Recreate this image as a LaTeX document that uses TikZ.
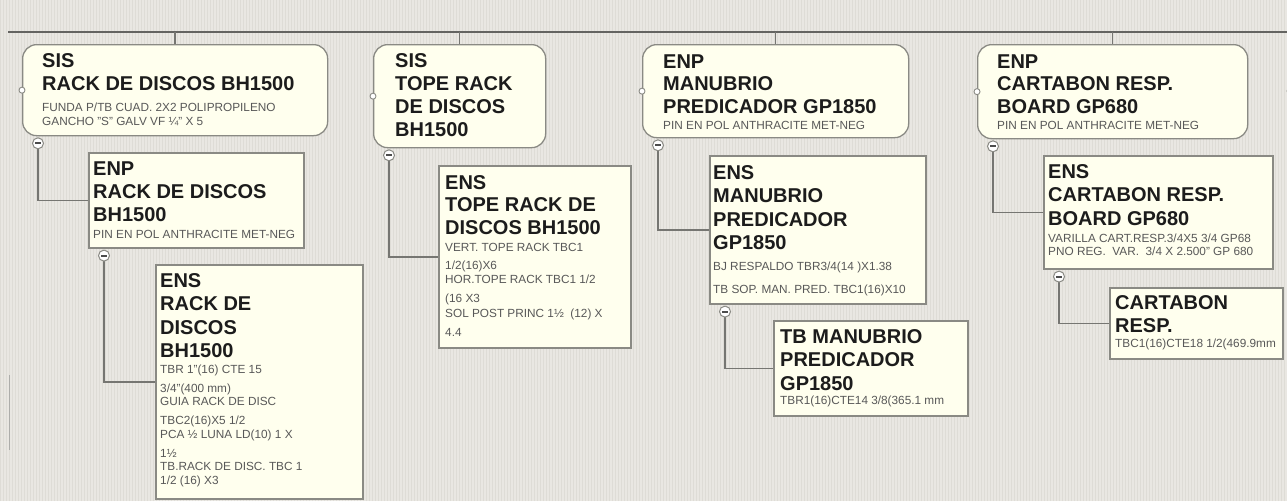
\documentclass[tikz,border=0pt]{standalone}
\usepackage{fontspec}
\setmainfont{Liberation Sans}
\definecolor{bg}{RGB}{233,231,226}
\definecolor{bggrid}{RGB}{222,220,214}
\definecolor{boxfill}{RGB}{255,255,238}
\definecolor{boxline}{RGB}{138,138,132}
\definecolor{connline}{RGB}{118,118,114}
\definecolor{titletext}{RGB}{28,28,28}
\definecolor{smalltext}{RGB}{88,88,88}
\tikzset{
  rootbox/.style={draw=boxline, fill=boxfill, line width=1.3pt, rounded corners=14pt, anchor=north west, inner sep=0pt},
  childbox/.style={draw=boxline, fill=boxfill, line width=1.6pt, anchor=north west, inner sep=0pt},
  conn/.style={draw=connline, line width=1.5pt},
  topline/.style={draw=connline!85!black, line width=2.2pt},
  minusbtn/.style={circle, draw=boxline, fill=white, line width=1pt, minimum size=11pt, inner sep=0pt,
    path picture={\draw[line width=1.8pt, black!70] ([xshift=-2.6pt]path picture bounding box.center) -- ([xshift=2.6pt]path picture bounding box.center);}},
  portdot/.style={circle, draw=boxline, fill=white, line width=0.9pt, minimum size=6pt, inner sep=0pt},
  titletxt/.style={font=\fontsize{20}{23}\selectfont\bfseries, text=titletext, anchor=base west, inner sep=0pt},
  smalltxt/.style={font=\fontsize{11.8}{13}\selectfont, text=smalltext, anchor=base west, inner sep=0pt},
}
\newcommand\ttl[4]{\node[titletxt] (#1) at (#2,#3) {#4};}
\newcommand\stl[4]{\node[smalltxt] (#1) at (#2,#3) {#4};}
\begin{document}
\begin{tikzpicture}[x=1pt,y=-1pt]
\useasboundingbox (0,0) rectangle (1287,501);
\fill[bg] (0,0) rectangle (1287,501);
\draw[bggrid, line width=0.35pt, step=3] (0,0) grid (1287,501);
\draw[connline!60, line width=1pt] (9,375) -- (9,450);

% top line
\coordinate (tl0) at (8,32);
\coordinate (tlE) at (1287,32);
\draw[topline] (tl0) -- (tlE);

% root boxes
\node[rootbox, minimum width=305pt, minimum height=91pt] (r1) at (22,44) {};
\node[rootbox, minimum width=172pt, minimum height=103pt] (r2) at (373,44) {};
\node[rootbox, minimum width=266pt, minimum height=93pt] (r3) at (642,44) {};
\node[rootbox, minimum width=270pt, minimum height=94pt] (r4) at (977,44) {};
\foreach \r in {r1,r2,r3,r4}{
  \draw[conn] (\r.north |- tl0) -- (\r.north);
  \node[portdot] (\r p) at (\r.west) {};
}
\node[portdot] (r5p) at (1290,91) {};

% child boxes
\node[childbox, minimum width=215pt, minimum height=95pt] (enp1) at (88,152) {};
\node[childbox, minimum width=207pt, minimum height=234pt] (ens1) at (155,264) {};
\node[childbox, minimum width=192pt, minimum height=182pt] (ens2) at (438,165) {};
\node[childbox, minimum width=216pt, minimum height=148pt] (ens3) at (709,155) {};
\node[childbox, minimum width=194pt, minimum height=95pt] (tb3) at (773,320) {};
\node[childbox, minimum width=229pt, minimum height=113pt] (ens4) at (1043,155) {};
\node[childbox, minimum width=173pt, minimum height=71pt] (cart4) at (1109,287) {};

% connectors with collapse buttons
\foreach \p/\c/\n in {r1/enp1/m1, enp1/ens1/m1b, r2/ens2/m2, r3/ens3/m3, ens3/tb3/m3b, r4/ens4/m4, ens4/cart4/m4b}{
  \coordinate (\n c) at ([shift={(16,7)}]\p.south west);
  \draw[conn] (\n c) |- (\c.west);
  \node[minusbtn] (\n) at (\n c) {};
}

% texts: root 1
\ttl{r1a}{42}{67}{SIS}
\ttl{r1b}{42}{90}{RACK DE DISCOS BH1500}
\stl{r1c}{42}{111}{FUNDA P/TB CUAD. 2X2 POLIPROPILENO}
\stl{r1d}{42}{125}{GANCHO "S" GALV VF ¼" X 5}
% root 2
\ttl{r2a}{395}{67}{SIS}
\ttl{r2b}{395}{90}{TOPE RACK}
\ttl{r2c}{395}{113}{DE DISCOS}
\ttl{r2d}{395}{136}{BH1500}
% root 3
\ttl{r3a}{663}{68}{ENP}
\ttl{r3b}{663}{90.5}{MANUBRIO}
\ttl{r3c}{663}{113}{PREDICADOR GP1850}
\stl{r3d}{663}{129}{PIN EN POL ANTHRACITE MET-NEG}
% root 4
\ttl{r4a}{997}{68}{ENP}
\ttl{r4b}{997}{90.5}{CARTABON RESP.}
\ttl{r4c}{997}{113}{BOARD GP680}
\stl{r4d}{997}{129}{PIN EN POL ANTHRACITE MET-NEG}
% ENP 1
\ttl{e1a}{93}{175}{ENP}
\ttl{e1b}{93}{198}{RACK DE DISCOS}
\ttl{e1c}{93}{221}{BH1500}
\stl{e1d}{93}{238}{PIN EN POL ANTHRACITE MET-NEG}
% ENS 1
\ttl{s1a}{160}{287}{ENS}
\ttl{s1b}{160}{310.5}{RACK DE}
\ttl{s1c}{160}{334}{DISCOS}
\ttl{s1d}{160}{357.5}{BH1500}
\stl{s1e}{160}{373}{TBR 1"(16) CTE 15}
\stl{s1f}{160}{392}{3/4"(400 mm)}
\stl{s1g}{160}{405.5}{GUIA RACK DE DISC}
\stl{s1h}{160}{424.5}{TBC2(16)X5 1/2}
\stl{s1i}{160}{438}{PCA ½ LUNA LD(10) 1 X}
\stl{s1j}{160}{457}{1½}
\stl{s1k}{160}{470.5}{TB.RACK DE DISC. TBC 1}
\stl{s1l}{160}{484}{1/2 (16) X3}
% ENS 2
\ttl{s2a}{445}{189}{ENS}
\ttl{s2b}{445}{211.5}{TOPE RACK DE}
\ttl{s2c}{445}{234.5}{DISCOS BH1500}
\stl{s2d}{445}{251}{VERT. TOPE RACK TBC1}
\stl{s2e}{445}{269.5}{1/2(16)X6}
\stl{s2f}{445}{283.5}{HOR.TOPE RACK TBC1 1/2}
\stl{s2g}{445}{302.5}{(16 X3}
\stl{s2h}{445}{317}{SOL POST PRINC 1½ \ (12) X}
\stl{s2i}{445}{336}{4.4}
% ENS 3
\ttl{s3a}{713}{179}{ENS}
\ttl{s3b}{713}{202.5}{MANUBRIO}
\ttl{s3c}{713}{226}{PREDICADOR}
\ttl{s3d}{713}{249.5}{GP1850}
\stl{s3e}{713}{270}{BJ RESPALDO TBR3/4(14 )X1.38}
\stl{s3f}{713}{293}{TB SOP. MAN. PRED. TBC1(16)X10}
% TB MANUBRIO
\ttl{t3a}{780}{343}{TB MANUBRIO}
\ttl{t3b}{780}{366.5}{PREDICADOR}
\ttl{t3c}{780}{390}{GP1850}
\stl{t3d}{780}{404.5}{TBR1(16)CTE14 3/8(365.1 mm}
% ENS 4
\ttl{s4a}{1048}{178}{ENS}
\ttl{s4b}{1048}{201.5}{CARTABON RESP.}
\ttl{s4c}{1048}{225}{BOARD GP680}
\stl{s4d}{1048}{242}{VARILLA CART.RESP.3/4X5 3/4 GP68}
\stl{s4e}{1048}{255}{PNO REG. \ VAR. \ 3/4 X 2.500" GP 680}
% CARTABON
\ttl{c4a}{1115}{309}{CARTABON}
\ttl{c4b}{1115}{332}{RESP.}
\stl{c4c}{1115}{347}{TBC1(16)CTE18 1/2(469.9mm}
\end{tikzpicture}
\end{document}
